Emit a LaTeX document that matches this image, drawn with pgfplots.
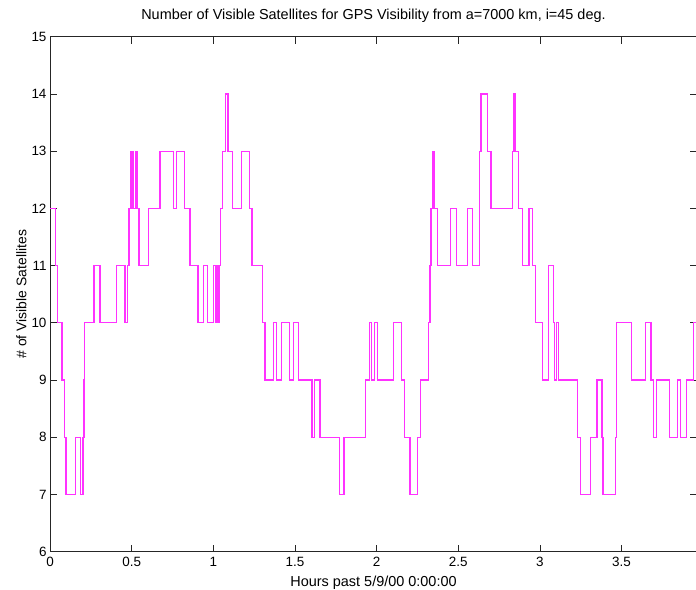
\documentclass[border=0pt]{standalone}
\usepackage{pgfplots}
\pgfplotsset{compat=1.18}
\usepackage{fontspec}
\setmainfont{Liberation Sans}
\definecolor{satmag}{RGB}{255,50,255}
\begin{document}
\begin{tikzpicture}
\begin{axis}[
  at={(0,0)}, anchor=south west,
  scale only axis, width=647bp, height=515bp,
  xmin=0, xmax=3.962, ymin=6, ymax=15,
  xtick={0,0.5,1,1.5,2,2.5,3,3.5},
  ytick={6,7,8,9,10,11,12,13,14,15},
  tick align=inside, major tick length=7bp,
  axis line style={black!85, line width=0.8bp},
  every tick/.style={black!85, line width=0.8bp},
  font=\fontsize{13.5}{16}\selectfont,
  /pgf/number format/assume math mode=true,
  xticklabel style={yshift=-2bp},
  title={Number of Visible Satellites for GPS Visibility from a=7000 km, i=45 deg.},
  title style={at={(axis description cs:0.5,1.0227)}, anchor=base, font=\fontsize{14.5}{17}\selectfont},
  xlabel={Hours past 5/9/00 0:00:00},
  every axis x label/.style={at={(axis description cs:0.5,-0.068)}, anchor=base, font=\fontsize{14.5}{17}\selectfont},
  ylabel={\# of Visible Satellites},
  every axis y label/.style={at={(axis description cs:-0.0444,0.5)}, rotate=90, anchor=center, font=\fontsize{14}{17}\selectfont},
]
\addplot[const plot, color=satmag, line width=1.2bp] coordinates {
(0,12) (0.035,11) (0.047,10) (0.073,9) (0.088,8) (0.098,7) (0.157,8) (0.188,7)
(0.202,8) (0.208,9) (0.212,10) (0.269,11) (0.306,10) (0.406,11) (0.459,10) (0.476,11)
(0.484,12) (0.492,13) (0.500,12) (0.504,13) (0.512,12) (0.527,13) (0.537,12) (0.545,11)
(0.604,12) (0.673,13) (0.755,12) (0.773,13) (0.822,12) (0.857,11) (0.906,10) (0.941,11)
(0.963,10) (1.002,11) (1.014,10) (1.020,11) (1.029,10) (1.035,11) (1.045,12) (1.057,13)
(1.073,14) (1.090,13) (1.118,12) (1.171,13) (1.220,12) (1.237,11) (1.302,10) (1.316,9)
(1.371,10) (1.386,9) (1.416,10) (1.465,9) (1.490,10) (1.520,9) (1.604,8) (1.622,9)
(1.653,8) (1.771,7) (1.800,8) (1.931,9) (1.955,10) (1.967,9) (1.988,10) (2.004,9)
(2.102,10) (2.151,9) (2.173,8) (2.204,7) (2.249,8) (2.269,9) (2.318,10) (2.327,11)
(2.333,12) (2.341,13) (2.351,12) (2.371,11) (2.453,12) (2.488,11) (2.555,12) (2.586,11)
(2.631,13) (2.639,14) (2.680,13) (2.700,12) (2.833,13) (2.839,14) (2.847,13) (2.867,12)
(2.894,11) (2.933,12) (2.953,11) (2.971,10) (3.014,9) (3.055,11) (3.082,10) (3.090,9)
(3.102,10) (3.116,9) (3.229,8) (3.251,7) (3.310,8) (3.349,9) (3.380,8) (3.386,7)
(3.461,8) (3.467,9) (3.471,10) (3.559,9) (3.649,10) (3.680,9) (3.694,8) (3.712,9)
(3.796,8) (3.841,9) (3.861,8) (3.898,9) (3.939,10) (3.962,10)
};
\end{axis}
\pgfresetboundingbox
\path[use as bounding box] (-50bp,-38.3bp) rectangle (646bp,551.7bp);
\end{tikzpicture}
\end{document}
